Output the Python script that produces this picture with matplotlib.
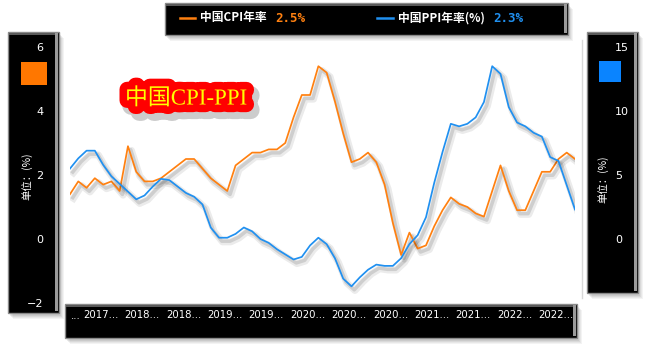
import matplotlib
matplotlib.use("Agg")
import matplotlib.pyplot as plt
import matplotlib.patheffects as pe
from matplotlib.patches import Rectangle
from matplotlib.lines import Line2D

# China CPI / PPI year-on-year (%), Jul 2017 - Aug 2022
cpi = [1.4, 1.8, 1.6, 1.9, 1.7, 1.8,
       1.5, 2.9, 2.1, 1.8, 1.8, 1.9, 2.1, 2.3, 2.5, 2.5, 2.2, 1.9,
       1.7, 1.5, 2.3, 2.5, 2.7, 2.7, 2.8, 2.8, 3.0, 3.8, 4.5, 4.5,
       5.4, 5.2, 4.3, 3.3, 2.4, 2.5, 2.7, 2.4, 1.7, 0.5, -0.5, 0.2,
       -0.3, -0.2, 0.4, 0.9, 1.3, 1.1, 1.0, 0.8, 0.7, 1.5, 2.3, 1.5,
       0.9, 0.9, 1.5, 2.1, 2.1, 2.5, 2.7, 2.5]
ppi = [5.5, 6.3, 6.9, 6.9, 5.8, 4.9,
       4.3, 3.7, 3.1, 3.4, 4.1, 4.7, 4.6, 4.1, 3.6, 3.3, 2.7, 0.9,
       0.1, 0.1, 0.4, 0.9, 0.6, 0.0, -0.3, -0.8, -1.2, -1.6, -1.4, -0.5,
       0.1, -0.4, -1.5, -3.1, -3.7, -3.0, -2.4, -2.0, -2.1, -2.1, -1.5, -0.4,
       0.3, 1.7, 4.4, 6.8, 9.0, 8.8, 9.0, 9.5, 10.7, 13.5, 12.9, 10.3,
       9.1, 8.8, 8.3, 8.0, 6.4, 6.1, 4.2, 2.3]
x_labels = ["2017...", "2018...", "2018...", "2019...", "2019...", "2020...",
            "2020...", "2020...", "2021...", "2021...", "2022...", "2022..."]
left_ticks = [-2, 0, 2, 4, 6]
right_ticks = [0, 5, 10, 15]

CPI_COLOR = "#ff8010"
PPI_COLOR = "#2090f0"
W, H = 656, 354
CJK = ["Noto Sans CJK SC", "DejaVu Sans"]

fig = plt.figure(figsize=(W / 100, H / 100), dpi=100)
fig.patch.set_facecolor("white")


def frac(x0, y0, x1, y1):
    # pixel box (top-left origin) -> figure fraction rect
    return x0 / W, 1 - y1 / H, (x1 - x0) / W, (y1 - y0) / H


def panel(x0, y0, x1, y1):
    for i, a in enumerate([0.07, 0.08, 0.10, 0.12]):
        d = 4 - i
        l, b, w, h = frac(x0 + 1 + d, y0 + 2 + d, x1 + 1 + d, y1 + 2 + d)
        fig.add_artist(Rectangle((l, b), w, h, transform=fig.transFigure,
                                 facecolor="#606060", edgecolor="none", alpha=a, zorder=-3))
    l, b, w, h = frac(x0, y0, x1, y1)
    fig.add_artist(Rectangle((l, b), w, h, transform=fig.transFigure,
                             facecolor="black", edgecolor="#8a8a8a", linewidth=1.0, zorder=-2))
    # bevel strips on top and right
    l, b, w, h = frac(x0 + 1, y0 + 1, x1 - 1, y0 + 3)
    fig.add_artist(Rectangle((l, b), w, h, transform=fig.transFigure,
                             facecolor="#5a5a5a", edgecolor="none", zorder=-2))
    l, b, w, h = frac(x1 - 4, y0 + 1, x1 - 1, y1 - 2)
    fig.add_artist(Rectangle((l, b), w, h, transform=fig.transFigure,
                             facecolor="#9a9a9a", edgecolor="none", zorder=-2))


panel(165, 3, 568, 35)
panel(8, 32, 59, 313)
panel(587, 32, 638, 293)
panel(65, 304, 577, 338)

# faint vertical divider right of the plot
fig.add_artist(Line2D([582 / W, 582 / W], [1 - 298 / H, 1 - 40 / H],
                      transform=fig.transFigure, color="#d8d8d8", lw=1, zorder=-3))

ax = fig.add_axes(frac(70, 47, 575, 303))
ax.patch.set_visible(False)
ax2 = ax.twinx()

xs = list(range(len(cpi)))
shadow = [pe.SimpleLineShadow(offset=(2.5, -3), shadow_color="black", alpha=0.08, linewidth=5),
          pe.SimpleLineShadow(offset=(2, -2.5), shadow_color="black", alpha=0.12, linewidth=2.5),
          pe.Normal()]
ax.plot(xs, cpi, color=CPI_COLOR, lw=1.25, path_effects=shadow, zorder=3)
ax2.plot(xs, ppi, color=PPI_COLOR, lw=1.25, path_effects=shadow, zorder=3)

ax.set_xlim(0, len(cpi) - 1)
ax.set_ylim(-2, 6)
ax2.set_ylim(-5, 15)
ax.set_yticks(left_ticks)
ax2.set_yticks(right_ticks)
ax.set_xticks([3.7 + 5 * k for k in range(len(x_labels))])
ax.set_xticklabels(x_labels)

for a in (ax, ax2):
    for s in a.spines.values():
        s.set_visible(False)
ax.tick_params(axis="y", colors="white", labelsize=8, length=0, pad=19)
ax2.tick_params(axis="y", colors="white", labelsize=8, length=0, pad=29)
ax.tick_params(axis="x", colors="white", labelsize=7.3, length=0, pad=5)
# truncated leading label
fig.text(71 / W, 1 - 316 / H, "...", color="white", fontsize=7.3, va="center")

# axis unit labels and colour keys in side panels
fig.text(27 / W, 1 - 176 / H, "单位：(%)", rotation=90, color="white", fontsize=7.5,
         family=CJK, ha="center", va="center")
fig.text(603 / W, 1 - 179 / H, "单位：(%)", rotation=90, color="white", fontsize=7.5,
         family=CJK, ha="center", va="center")
fig.add_artist(Rectangle(frac(21, 62, 47, 85)[:2], 26 / W, 23 / H, transform=fig.transFigure,
                         facecolor="#ff7700", edgecolor="none"))
fig.add_artist(Rectangle(frac(599, 61, 621, 82)[:2], 22 / W, 21 / H, transform=fig.transFigure,
                         facecolor="#0a84ff", edgecolor="none"))

# legend in the top panel
ly = 1 - 18 / H
fig.add_artist(Line2D([180 / W, 195 / W], [ly, ly], transform=fig.transFigure,
                      color=CPI_COLOR, lw=1.8))
fig.text(200 / W, ly, "中国CPI年率", color="white", fontsize=8.5, weight="bold",
         family=CJK, va="center")
fig.text(275 / W, ly, f"{cpi[-1]}%", color=CPI_COLOR, fontsize=9, weight="bold",
         family="DejaVu Sans Mono", va="center")
fig.add_artist(Line2D([377 / W, 393 / W], [ly, ly], transform=fig.transFigure,
                      color=PPI_COLOR, lw=1.8))
fig.text(398 / W, ly, "中国PPI年率(%)", color="white", fontsize=8.5, weight="bold",
         family=CJK, va="center")
fig.text(493 / W, ly, f"{ppi[-1]}%", color=PPI_COLOR, fontsize=9, weight="bold",
         family="DejaVu Sans Mono", va="center")

# title with red glow
fig.text(186 / W, 1 - 99 / H, "中国CPI-PPI", color="#ffff00", fontsize=16.5,
         family=["Liberation Serif", "Noto Sans CJK SC"], ha="center", va="center",
         path_effects=[pe.Stroke(linewidth=13, foreground="black", alpha=0.2, offset=(3, -4)),
                       pe.Stroke(linewidth=11, foreground="red"),
                       pe.Normal()])

fig.savefig("out.png", dpi=100)
